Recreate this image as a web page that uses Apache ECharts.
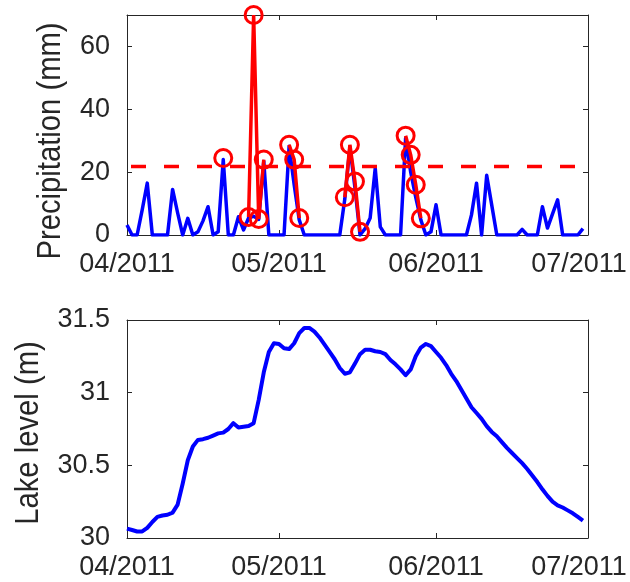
<!DOCTYPE html>
<html>
<head>
<meta charset="utf-8">
<script src="https://cdn.jsdelivr.net/npm/echarts@6/dist/echarts.min.js"></script>
<style>html,body{margin:0;padding:0;background:#fff}#c{width:630px;height:582px}</style>
</head>
<body>
<div id="c"></div>
<script>
// ---- data (day 0 = 2011-04-01) ----
const startDate = '2011-04-01';
const precip = [
  3.2, 0, 0, 8, 16.5, 0, 0, 0, 0, 14.5,
  7, 0, 5.3, 0, 1, 4.5, 9, 0, 1, 24,
  0, 0, 5.8, 1.6, 5.4, 6, 5, 23.4, 0, 0,
  0, 0, 28.2, 16, 4.8, 0, 0, 0, 0, 0,
  0, 0, 0, 11.5, 28, 15, 0, 2, 5.4, 21.3,
  2.6, 0, 0, 0, 0, 30.8, 20, 12, 4.8, 0,
  1, 9.6, 0, 0, 0, 0, 0, 0, 6.4, 16.5,
  0, 19, 9.5, 0, 0, 0, 0, 0, 1.8, 0,
  0, 0, 9, 2.2, 6.7, 11.2, 0, 0, 0, 0,
  2
];
const lakeLevel = [
  30.065, 30.055, 30.045, 30.045, 30.07, 30.11, 30.145, 30.155, 30.16, 30.175,
  30.23, 30.375, 30.535, 30.63, 30.675, 30.68, 30.69, 30.705, 30.72, 30.725,
  30.75, 30.79, 30.76, 30.765, 30.77, 30.79, 30.95, 31.14, 31.28, 31.34,
  31.335, 31.305, 31.30, 31.34, 31.41, 31.445, 31.445, 31.42, 31.38, 31.33,
  31.28, 31.23, 31.17, 31.13, 31.14, 31.2, 31.265, 31.295, 31.295, 31.285,
  31.28, 31.265, 31.225, 31.195, 31.16, 31.12, 31.16, 31.25, 31.31, 31.335,
  31.32, 31.28, 31.24, 31.19, 31.13, 31.08, 31.02, 30.96, 30.9, 30.86,
  30.82, 30.77, 30.73, 30.7, 30.66, 30.62, 30.585, 30.55, 30.515, 30.475,
  30.43, 30.385, 30.335, 30.29, 30.25, 30.225, 30.21, 30.19, 30.17, 30.145,
  30.12
];
const eventDays   = [19, null, 24, 25, 26, 27, null, 32, 33, 34, null, 43, 44, 45, 46, null, 55, 56, 57, 58];
const eventValues = [24.5, null, 5.7, 70, 5.1, 24, null, 28.7, 24, 5.4, null, 12, 28.7, 17, 1, null, 31.6, 25.5, 16, 5.3];
const threshold = 21.8;
const tickDays = [0, 30, 61, 91];
const tickLabels = ['04/2011', '05/2011', '06/2011', '07/2011'];
const precipTicks = [0, 20, 40, 60];
const lakeTicks = [30, 30.5, 31, 31.5];

// ---- chart ----
const AX = '#262626';
const FONT = 'Liberation Sans';
const chart = echarts.init(document.getElementById('c'), null, {renderer: 'canvas'});

function xAxisDef(grid, pos, showLabels) {
  return {
    type: 'value', gridIndex: grid, position: pos, min: 0, max: 91,
    axisLine: {show: true, onZero: false, lineStyle: {color: AX, width: 1}},
    axisTick: {show: true, inside: true, length: 5, customValues: tickDays, lineStyle: {color: AX, width: 1}},
    axisLabel: {show: showLabels, customValues: tickDays, margin: 16, color: AX, fontSize: 27, fontFamily: FONT,
      hideOverlap: false,
      formatter: v => {
        const i = tickDays.indexOf(v);
        if (i < 0) return '';
        return i === tickDays.length - 1 ? '{last|' + tickLabels[i] + '}' : tickLabels[i];
      },
      rich: {last: {color: AX, fontSize: 27, fontFamily: FONT, padding: [0, 18, 0, 0]}}},
    splitLine: {show: false}
  };
}
function yAxisDef(grid, pos, showLabels, min, max, ticks) {
  return {
    type: 'value', gridIndex: grid, position: pos, min: min, max: max,
    axisLine: {show: true, onZero: false, lineStyle: {color: AX, width: 1}},
    axisTick: {show: true, inside: true, length: 5, customValues: ticks, lineStyle: {color: AX, width: 1}},
    axisLabel: {show: showLabels, customValues: ticks, margin: 17, color: AX, fontSize: 27, fontFamily: FONT,
      formatter: v => String(v)},
    splitLine: {show: false}
  };
}

const precipData = precip.map((v, i) => [i, v]);
const lakeData = lakeLevel.map((v, i) => [i, v]);
const eventData = eventDays.map((d, i) => d === null ? '-' : [d, eventValues[i]]);
const thresholdData = [[tickDays[0], threshold], [tickDays[tickDays.length - 1], threshold]];

chart.setOption({
  animation: false,
  backgroundColor: '#fff',
  grid: [
    {left: 127, right: 42, top: 15, height: 220, outerBoundsMode: 'none', containLabel: false},
    {left: 127, right: 42, top: 320, height: 218, outerBoundsMode: 'none', containLabel: false}
  ],
  xAxis: [
    xAxisDef(0, 'bottom', true), xAxisDef(0, 'top', false),
    xAxisDef(1, 'bottom', true), xAxisDef(1, 'top', false)
  ],
  yAxis: [
    yAxisDef(0, 'left', true, 0, 70, precipTicks), yAxisDef(0, 'right', false, 0, 70, precipTicks),
    yAxisDef(1, 'left', true, 30, 31.5, lakeTicks), yAxisDef(1, 'right', false, 30, 31.5, lakeTicks)
  ],
  graphic: [
    {type: 'text', x: 51, y: 141, rotation: Math.PI / 2, scaleX: 0.86, scaleY: 1,
      style: {text: 'Precipitation (mm)', fill: AX, font: '34px "Liberation Sans"', textAlign: 'center', textVerticalAlign: 'middle'}},
    {type: 'text', x: 29, y: 433, rotation: Math.PI / 2, scaleX: 0.86, scaleY: 1,
      style: {text: 'Lake level (m)', fill: AX, font: '34px "Liberation Sans"', textAlign: 'center', textVerticalAlign: 'middle'}}
  ],
  series: [
    {type: 'line', xAxisIndex: 0, yAxisIndex: 0, data: precipData, showSymbol: false, z: 2,
      lineStyle: {color: '#0000ff', width: 3.5, join: 'round'}},
    {type: 'line', xAxisIndex: 0, yAxisIndex: 0, data: thresholdData, showSymbol: false, z: 3,
      lineStyle: {color: '#ff0000', width: 3.5, type: [15, 18], dashOffset: 29, cap: 'butt'}},
    {type: 'line', xAxisIndex: 0, yAxisIndex: 0, data: eventData, connectNulls: false, clip: false, z: 4,
      symbol: 'circle', symbolSize: 17, showSymbol: true, showAllSymbol: true,
      itemStyle: {color: 'rgba(0,0,0,0)', borderColor: '#ff0000', borderWidth: 3},
      lineStyle: {color: '#ff0000', width: 3.5}},
    {type: 'line', xAxisIndex: 2, yAxisIndex: 2, data: lakeData, showSymbol: false,
      lineStyle: {color: '#0000ff', width: 4, join: 'round'}}
  ]
});
</script>
</body>
</html>
